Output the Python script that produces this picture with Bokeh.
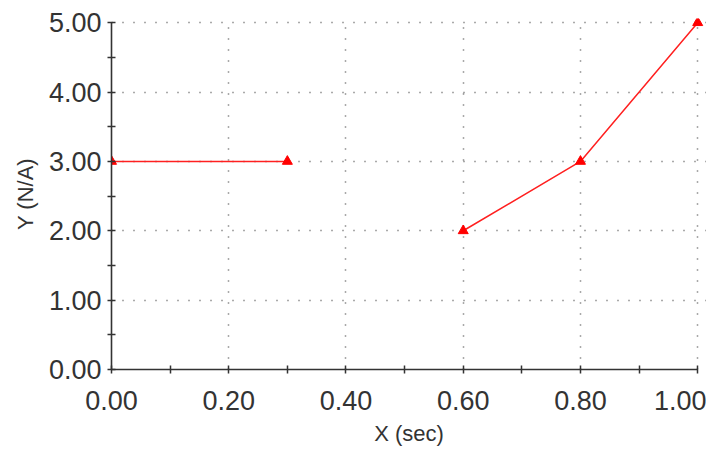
from bokeh.plotting import figure
from bokeh.models import Range1d, FixedTicker
from bokeh.embed import file_html
from bokeh.resources import INLINE

# Data
seg1_x = [0.0, 0.3]
seg1_y = [3.0, 3.0]
seg2_x = [0.6, 0.8, 1.0]
seg2_y = [2.0, 3.0, 5.0]

x_ticks = [0.0, 0.2, 0.4, 0.6, 0.8, 1.0]
x_minor = [0.1, 0.3, 0.5, 0.7, 0.9]
y_ticks = [0.0, 1.0, 2.0, 3.0, 4.0, 5.0]
y_minor = [0.5, 1.5, 2.5, 3.5, 4.5]
x_labels = {0.0: "0.00", 0.2: "0.20", 0.4: "0.40", 0.6: "0.60", 0.8: "0.80", 1.0: "1.00"}
y_labels = {0.0: "0.00", 1.0: "1.00", 2.0: "2.00", 3.0: "3.00", 4.0: "4.00", 5.0: "5.00"}

p = figure(frame_width=595, frame_height=351, output_backend="svg", toolbar_location=None,
           x_range=Range1d(0, 1.015), y_range=Range1d(0, 5.06),
           min_border_left=111, min_border_right=0, min_border_top=18, min_border_bottom=82)
p.outline_line_color = None
p.background_fill_color = "white"
p.border_fill_color = "white"

for s_x, s_y in [(seg1_x, seg1_y), (seg2_x, seg2_y)]:
    p.line(s_x, s_y, line_color="#ff2020", line_width=1.5)
    p.scatter(s_x, s_y, marker="triangle", size=10, fill_color="#ff0000", line_color="#ff0000")

p.xaxis.ticker = FixedTicker(ticks=x_ticks, minor_ticks=x_minor)
p.yaxis.ticker = FixedTicker(ticks=y_ticks, minor_ticks=y_minor)
p.xaxis.major_label_overrides = x_labels
p.yaxis.major_label_overrides = y_labels
p.xaxis.bounds = (0, 1)
p.yaxis.bounds = (0, 5)

for ax in (p.xaxis, p.yaxis):
    ax.axis_line_color = "#333333"
    ax.axis_line_width = 1.6
    ax.major_tick_line_color = "#333333"
    ax.minor_tick_line_color = "#333333"
    ax.major_tick_line_width = 1.5
    ax.minor_tick_line_width = 1.5
    ax.major_tick_in = 4
    ax.major_tick_out = 4
    ax.minor_tick_in = 4
    ax.minor_tick_out = 4
    ax.major_label_text_font = "Liberation Sans"
    ax.major_label_text_font_size = "27px"
    ax.major_label_text_color = "#333333"
    ax.axis_label_text_font = "Liberation Sans"
    ax.axis_label_text_font_size = "22px"
    ax.axis_label_text_font_style = "normal"
    ax.axis_label_text_color = "#333333"

p.xaxis.axis_label = "X (sec)"
p.yaxis.axis_label = "Y (N/A)"
p.xaxis.major_label_standoff = 17
p.yaxis.major_label_standoff = 6
p.xaxis.axis_label_standoff = 8
p.yaxis.axis_label_standoff = 8

for g in (p.xgrid, p.ygrid):
    g.grid_line_color = "#555555"
    g.grid_line_dash = "1 10"
    g.grid_line_width = 1.5
p.xgrid.bounds = (0, 5)
p.ygrid.bounds = (0, 1)

open("out.html", "w").write(file_html(p, INLINE))
